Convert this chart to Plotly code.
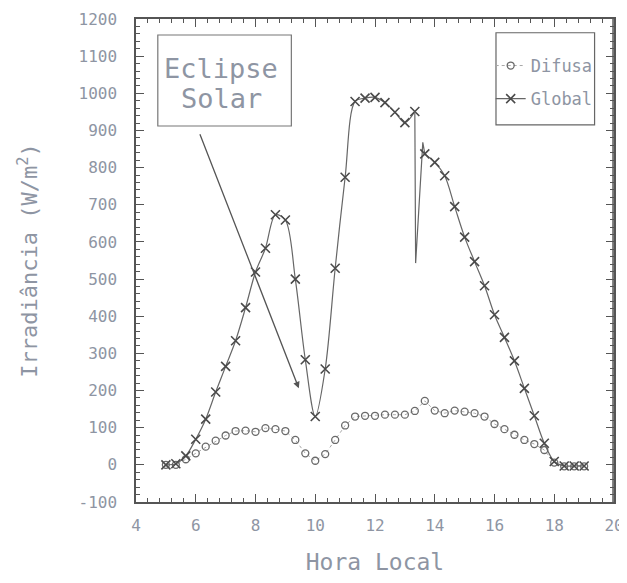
import plotly.graph_objects as go

# ---- data ----
hours = [5.0, 5.333, 5.667, 6.0, 6.333, 6.667, 7.0, 7.333, 7.667, 8.0, 8.333, 8.667,
         9.0, 9.333, 9.667, 10.0, 10.333, 10.667, 11.0, 11.333, 11.667, 12.0, 12.333,
         12.667, 13.0, 13.333, 13.667, 14.0, 14.333, 14.667, 15.0, 15.333, 15.667,
         16.0, 16.333, 16.667, 17.0, 17.333, 17.667, 18.0, 18.333, 18.667, 19.0]

difusa = [0, 0, 15, 31, 49, 65, 79, 91, 92, 89, 99, 96,
          91, 67, 31, 11, 29, 67, 106, 130, 132, 132, 135,
          135, 135, 145, 172, 146, 139, 146, 143, 139, 130,
          110, 96, 81, 67, 56, 40, 6, -4, -4, -4]

global_rad = [0, 3, 24, 69, 123, 196, 265, 334, 423, 519, 583, 673,
              659, 500, 283, 130, 258, 529, 774, 978, 987, 989, 975,
              949, 921, 951, 837, 814, 778, 695, 613, 547, 482,
              404, 343, 280, 206, 132, 58, 9, -3, -3, -3]

# short transient recorded between two readings (13:20 - 13:40)
glitch_hours = [13.333, 13.36, 13.6, 13.667]
glitch_vals = [951, 543, 868, 837]

split_idx = 26  # index of 13:40 reading

x_ticks = [4, 6, 8, 10, 12, 14, 16, 18, 20]
y_ticks = [-100, 0, 100, 200, 300, 400, 500, 600, 700, 800, 900, 1000, 1100, 1200]

FONT = "DejaVu Sans Mono"
TXT = "#8e95a3"
LINE = "#4a4a4a"

fig = go.Figure()

fig.add_trace(go.Scatter(
    x=hours, y=difusa, name="Difusa", mode="lines+markers",
    legendgroup="d",
    line=dict(color="#a8a8a8", width=1, dash="dot"),
    marker=dict(symbol="circle-open", size=7, color="#6a6a6a", line=dict(width=1.3)),
))

fig.add_trace(go.Scatter(
    x=hours[:split_idx], y=global_rad[:split_idx], name="Global", mode="lines+markers",
    legendgroup="g",
    line=dict(color="#666666", width=1.2, shape="spline", smoothing=0.9),
    marker=dict(symbol="x-thin", size=9, color=LINE, line=dict(width=1.6, color=LINE)),
))
fig.add_trace(go.Scatter(
    x=glitch_hours, y=glitch_vals, mode="lines", showlegend=False, legendgroup="g",
    line=dict(color="#666666", width=1.2), hoverinfo="skip",
))
fig.add_trace(go.Scatter(
    x=hours[split_idx:], y=global_rad[split_idx:], mode="lines+markers",
    showlegend=False, legendgroup="g",
    line=dict(color="#666666", width=1.2, shape="spline", smoothing=0.9),
    marker=dict(symbol="x-thin", size=9, color=LINE, line=dict(width=1.6, color=LINE)),
))

# Eclipse annotation box and arrow
fig.add_shape(type="rect", xref="x", yref="y", x0=4.73, x1=9.2, y0=912, y1=1157,
              line=dict(color="#777777", width=1.2))
fig.add_annotation(x=6.85, y=1066, xref="x", yref="y", text="Eclipse",
                   showarrow=False, font=dict(family=FONT, size=27, color=TXT))
fig.add_annotation(x=6.85, y=986, xref="x", yref="y", text="Solar",
                   showarrow=False, font=dict(family=FONT, size=27, color=TXT))
fig.add_annotation(x=9.45, y=206, ax=6.12, ay=894, xref="x", yref="y",
                   axref="x", ayref="y", text="", showarrow=True,
                   arrowhead=2, arrowsize=1, arrowwidth=1.3, arrowcolor="#555555")

# legend box
fig.add_shape(type="rect", xref="x", yref="y", x0=16.05, x1=19.35, y0=915, y1=1163,
              line=dict(color="#666666", width=1.2))

# right-hand frame edge of the plot box (drawn explicitly)
fig.add_shape(type="line", xref="x domain", yref="y domain", x0=0.998, x1=0.998, y0=0, y1=1,
              layer="above", line=dict(color="#555555", width=1.5))

axis_common = dict(
    showgrid=False, zeroline=False, showline=True, mirror="all",
    linecolor="#555555", linewidth=1.5, ticks="inside", ticklen=8,
    tickcolor="#555555", tickwidth=1,
    tickfont=dict(family=FONT, size=16, color=TXT),
)

fig.update_xaxes(
    range=[4, 20], tickvals=x_ticks, ticktext=[str(v) for v in x_ticks],
    minor=dict(tick0=4, dtick=0.4, ticks="inside", ticklen=4, tickcolor="#555555"),
    title=dict(text="Hora Local", font=dict(family=FONT, size=23, color=TXT), standoff=27),
    ticklabelstandoff=8, ticklabeloverflow="allow",
    **axis_common,
)
fig.update_yaxes(
    range=[-100, 1200], tickvals=y_ticks, ticktext=[str(v) for v in y_ticks],
    minor=dict(tick0=0, dtick=20, ticks="inside", ticklen=4, tickcolor="#555555"),
    title=dict(text="Irradiância (W/m<sup>2</sup>)", font=dict(family=FONT, size=22, color=TXT),
               standoff=35),
    ticklabelstandoff=14,
    **axis_common,
)

# the page adds an 8px body margin, so the figure is sized to fit the window
fig.update_layout(
    width=619, height=567,
    margin=dict(l=128, r=13, t=11, b=73, autoexpand=False),
    paper_bgcolor="white", plot_bgcolor="white",
    showlegend=True,
    legend=dict(x=0.742, y=0.94, xanchor="left", yanchor="top",
                bgcolor="rgba(0,0,0,0)", borderwidth=0,
                traceorder="grouped", tracegroupgap=8, itemwidth=30,
                font=dict(family=FONT, size=17, color=TXT)),
)

fig.write_html("out.html")
